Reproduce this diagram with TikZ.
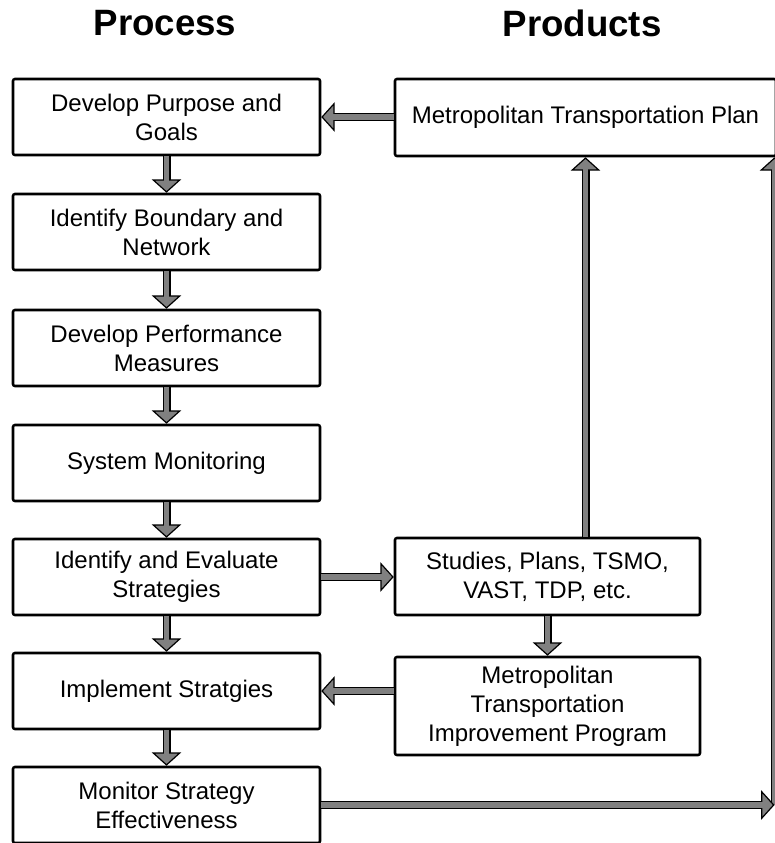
\documentclass[tikz,border=0pt]{standalone}
\usepackage{fontspec}
\setmainfont{Liberation Sans}
\usetikzlibrary{arrows.meta}
\definecolor{arrowgray}{RGB}{128,128,128}

\begin{document}
\begin{tikzpicture}[line join=miter,x=0.75pt,y=-0.75pt,
    stepbox/.style={draw=black,line width=1.9pt,rounded corners=1.5pt,fill=white,align=center,
      inner sep=0pt,font=\fontsize{18}{21.75}\selectfont},
    procbox/.style={stepbox,minimum width=230.25pt,minimum height=57pt},
    prodbox/.style={stepbox,minimum width=228.75pt,minimum height=57.75pt},
    heading/.style={font=\bfseries\fontsize{27.5}{33}\selectfont},
    flow/.style={draw=black,line width=6pt,
      -{Triangle[width=22pt 0,length=10pt 0,fill=arrowgray,line width=0.9pt]},
      postaction={draw=arrowgray,line width=4.2pt,-,shorten >=8pt}}]
      \useasboundingbox (0,0) rectangle (775,843);
      \clip (0,0) rectangle (775,843);

      % headings
      \node[heading] (process) at (165,23) {Process};
      \node[heading] (products) at (582,23) {Products};

      % process column
      \node[procbox] (purpose) at (166.5,117) {Develop Purpose and\\Goals};
      \node[procbox] (boundary) at (166.5,232) {Identify Boundary and\\Network};
      \node[procbox] (measures) at (166.5,348) {Develop Performance\\Measures};
      \node[procbox] (monitoring) at (166.5,463) {System Monitoring};
      \node[procbox] (evaluate) at (166.5,577) {Identify and Evaluate\\Strategies};
      \node[procbox] (implement) at (166.5,691) {Implement Stratgies};
      \node[procbox] (effect) at (166.5,805) {Monitor Strategy\\Effectiveness};

      % products column
      \node[stepbox,minimum width=285.75pt,minimum height=57.75pt] (mtp) at (585.5,117.5) {Metropolitan Transportation Plan};
      \node[prodbox] (studies) at (547.5,576.5) {Studies, Plans, TSMO,\\VAST, TDP, etc.};
      \node[prodbox,minimum height=73.5pt] (mtip) at (547.5,706) {Metropolitan\\Transportation\\Improvement Program};
      \coordinate (rim) at (774.5,805);

      \foreach \a/\b in {purpose/boundary,boundary/measures,measures/monitoring,
                         monitoring/evaluate,evaluate/implement,implement/effect}{
        \draw[flow] (\a) -- (\b);
      }
      \draw[flow] (mtp.west |- purpose.east) -- (purpose.east);
      \draw[flow] (evaluate.east) -- (evaluate.east -| studies.west);
      \draw[flow] (studies.north -| mtp.south) -- (mtp.south);
      \draw[flow] (studies) -- (mtip);
      \draw[flow] (mtip.west |- implement.east) -- (implement.east);

      \draw[flow] (rim) -- (rim |- mtp.south);
      \draw[flow] (effect.east) -- (rim);
\end{tikzpicture}
\end{document}
